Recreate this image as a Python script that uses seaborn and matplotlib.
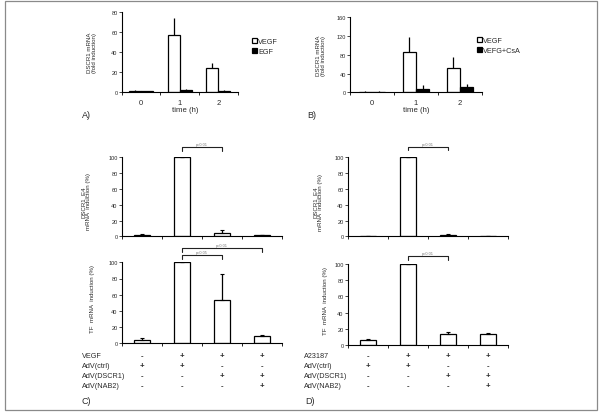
import numpy as np
import pandas as pd
import matplotlib
matplotlib.use("Agg")
import matplotlib.pyplot as plt
import seaborn as sns
from matplotlib.patches import Rectangle
from matplotlib.transforms import blended_transform_factory

sns.set_style("ticks")
plt.rcParams["font.family"] = ["Liberation Sans", "DejaVu Sans"]

# ---------------- data ----------------
time_labels = ["0", "1", "2"]
a_vegf = [1.0, 57.0, 24.0]
a_vegf_err = [0.3, 17.0, 5.0]
a_egf = [1.0, 2.0, 1.0]
a_egf_err = [0.2, 0.7, 0.3]

b_vegf = [1.5, 87.0, 51.0]
b_vegf_err = [0.3, 32.0, 24.0]
b_csa = [1.5, 8.0, 11.0]
b_csa_err = [0.3, 8.0, 7.0]

conditions = ["c1", "c2", "c3", "c4"]
c_dscr1 = [2.0, 100.0, 4.0, 1.5]
c_dscr1_err = [0.8, 0.0, 4.5, 0.5]
c_tf = [3.5, 100.0, 53.0, 8.5]
c_tf_err = [2.5, 0.0, 32.0, 1.5]
d_dscr1 = [0.5, 100.0, 2.0, 0.3]
d_dscr1_err = [0.2, 0.0, 0.6, 0.1]
d_tf = [6.0, 100.0, 13.5, 13.0]
d_tf_err = [2.0, 0.0, 2.0, 2.0]

c_rows = ["VEGF", "AdV(ctrl)", "AdV(DSCR1)", "AdV(NAB2)"]
d_rows = ["A23187", "AdV(ctrl)", "AdV(DSCR1)", "AdV(NAB2)"]
signs = [["-", "+", "+", "+"],
         ["+", "+", "-", "-"],
         ["-", "-", "+", "+"],
         ["-", "-", "-", "+"]]

c_top_cmp = [(1, 2, "p<0.01")]
c_bot_cmp = [(1, 2, "p<0.05"), (1, 3, "p<0.01")]
d_top_cmp = [(1, 2, "p<0.01")]
d_bot_cmp = [(1, 2, "p<0.01")]

# ---------------- figure ----------------
W, H = 600, 414
fig = plt.figure(figsize=(W / 100, H / 100), dpi=100)
fig.patch.set_facecolor("white")
TXT = "#2a2a2a"
YL = 4.4  # y-label font size


def add_ax(x0, yt, x1, yb):
    return fig.add_axes([x0 / W, 1 - yb / H, (x1 - x0) / W, (yb - yt) / H])


def style_ax(ax, ymax, yticks, ncat, xlabels=None):
    ax.set_facecolor("white")
    sns.despine(ax=ax)
    for s in ("left", "bottom"):
        ax.spines[s].set_linewidth(0.8)
        ax.spines[s].set_color("black")
    ax.set_ylim(0, ymax)
    ax.set_yticks(yticks)
    ax.set_xlim(-0.5, ncat - 0.5)
    ax.tick_params(axis="y", length=2, width=0.6, pad=1, labelsize=4.1,
                   colors=TXT, direction="out")
    ax.set_xticks(range(ncat))
    if xlabels is None:
        ax.set_xticklabels([""] * ncat)
    else:
        ax.set_xticklabels(xlabels)
    ax.tick_params(axis="x", which="major", length=0, pad=5, labelsize=5.5,
                   colors=TXT)
    ax.set_xticks(np.arange(-0.5, ncat, 1.0), minor=True)
    ax.tick_params(axis="x", which="minor", length=2, width=0.6,
                   direction="out", color="black")
    ax.set_xlabel("")
    ax.set_ylabel("")


def add_err(ax, container, errs, cap):
    xs = [p.get_x() + p.get_width() / 2 for p in container.patches]
    ys = [p.get_height() for p in container.patches]
    ax.errorbar(xs, ys, yerr=[np.zeros(len(errs)), errs], fmt="none",
                ecolor="black", elinewidth=0.9, capsize=cap, capthick=0.8)


def grouped(ax, s1, v1, e1, s2, v2, e2, width):
    df = pd.DataFrame({
        "time": time_labels * 2,
        "val": list(v1) + list(v2),
        "series": [s1] * 3 + [s2] * 3,
    })
    sns.barplot(data=df, x="time", y="val", hue="series", order=time_labels,
                hue_order=[s1, s2], palette={s1: "white", s2: "black"},
                edgecolor="black", linewidth=0.9, width=width, saturation=1,
                errorbar=None, ax=ax, legend=False)
    add_err(ax, ax.containers[0], e1, 0)
    add_err(ax, ax.containers[1], e2, 0)
    return [ax.containers[0].patches[1], ax.containers[1].patches[1]]


def single(ax, vals, errs):
    df = pd.DataFrame({"cond": conditions, "val": vals})
    sns.barplot(data=df, x="cond", y="val", order=conditions, color="white",
                edgecolor="black", linewidth=0.9, width=0.41, saturation=1,
                errorbar=None, ax=ax)
    add_err(ax, ax.containers[0], errs, 1.3)


def brackets(ax, cmps, levels, drops):
    for (a, b, lab), lev, dr in zip(cmps, levels, drops):
        ax.plot([a, a, b, b], [lev - dr, lev, lev, lev - dr], color="#222",
                lw=0.8, clip_on=False)
        ax.text((a + b) / 2, lev + 1.5, lab, ha="center", va="bottom",
                fontsize=2.8, color="#777", clip_on=False)


def legend(ax, handles, labels, x, y):
    ax.legend(handles, labels, loc="upper left",
              bbox_to_anchor=(x / W, 1 - y / H), bbox_transform=fig.transFigure,
              frameon=False, fontsize=5.2, handlelength=0.75, handleheight=0.75,
              handletextpad=0.2, labelspacing=0.45, borderpad=0,
              borderaxespad=0, labelcolor=TXT)


# ---- Panel A ----
axA = add_ax(121.7, 12.7, 237.7, 92.7)
hA = grouped(axA, "VEGF", a_vegf, a_vegf_err, "EGF", a_egf, a_egf_err, 0.62)
style_ax(axA, 80, [0, 20, 40, 60, 80], 3, time_labels)
axA.set_ylabel("DSCR1 mRNA\n(fold induction)", fontsize=YL, color=TXT,
               linespacing=1.05)
axA.yaxis.set_label_coords(-0.21, 0.5)
axA.set_xlabel("time (h)", fontsize=5.6, color=TXT)
axA.xaxis.set_label_coords(0.55, -0.225)
axA.xaxis.label.set_va("center")
legend(axA, hA, ["VEGF", "EGF"], 251.5, 38.5)

# ---- Panel B ----
axB = add_ax(350, 18.3, 482, 93.3)
hB = grouped(axB, "VEGF", b_vegf, b_vegf_err, "VEFG+CsA", b_csa, b_csa_err,
             0.6)
style_ax(axB, 160, [0, 40, 80, 120, 160], 3, time_labels)
axB.set_ylabel("DSCR1 mRNA\n(fold induction)", fontsize=YL, color=TXT,
               linespacing=1.05)
axB.yaxis.set_label_coords(-0.18, 0.5)
axB.set_xlabel("time (h)", fontsize=5.6, color=TXT)
axB.xaxis.set_label_coords(0.5, -0.225)
axB.xaxis.label.set_va("center")
legend(axB, hB, ["VEGF", "VEFG+CsA"], 476.5, 37.5)

# ---- Panel C ----
axC1 = add_ax(121.7, 158.3, 281.7, 237.3)
single(axC1, c_dscr1, c_dscr1_err)
style_ax(axC1, 100, [0, 20, 40, 60, 80, 100], 4)
axC1.set_ylabel("DSCR1_E4\nmRNA  induction (%)", fontsize=YL, color=TXT,
                linespacing=1.05)
axC1.yaxis.set_label_coords(-0.19, 0.45)
brackets(axC1, c_top_cmp, [113.4], [5.8])

axC2 = add_ax(121.7, 263.3, 281.7, 344.3)
single(axC2, c_tf, c_tf_err)
style_ax(axC2, 100, [0, 20, 40, 60, 80, 100], 4)
axC2.set_ylabel("TF  mRNA  induction (%)", fontsize=YL, color=TXT)
axC2.yaxis.set_label_coords(-0.165, 0.56)
brackets(axC2, c_bot_cmp, [109, 117.3], [4.9, 4.2])

# ---- Panel D ----
axD1 = add_ax(347.7, 158.3, 508, 237.3)
single(axD1, d_dscr1, d_dscr1_err)
style_ax(axD1, 100, [0, 20, 40, 60, 80, 100], 4)
axD1.set_ylabel("DSCR1_E4\nmRNA  induction (%)", fontsize=YL, color=TXT,
                linespacing=1.05)
axD1.yaxis.set_label_coords(-0.155, 0.44)
brackets(axD1, d_top_cmp, [113.4], [4.2])

axD2 = add_ax(347.7, 265, 508, 346)
single(axD2, d_tf, d_tf_err)
style_ax(axD2, 100, [0, 20, 40, 60, 80, 100], 4)
axD2.set_ylabel("TF  mRNA  induction (%)", fontsize=YL, color=TXT)
axD2.yaxis.set_label_coords(-0.125, 0.555)
brackets(axD2, d_bot_cmp, [110.2], [4.9])

# ---- condition tables ----
row_y = [356.5, 366.7, 376.7, 386.7]
for ax, rows, xl in ((axC2, c_rows, 81.5), (axD2, d_rows, 303.5)):
    tr = blended_transform_factory(ax.transData, fig.transFigure)
    for r, (name, yy) in enumerate(zip(rows, row_y)):
        fig.text(xl / W, 1 - yy / H, name, fontsize=5.2, color=TXT,
                 ha="left", va="center")
        for i, s in enumerate(signs[r]):
            ax.text(i, 1 - yy / H, s, transform=tr, fontsize=5.6, color=TXT,
                    ha="center", va="center", fontweight="bold", clip_on=False)

# ---- panel letters ----
for lab, x, y in (("A)", 82, 115), ("B)", 307, 115), ("C)", 82, 402),
                  ("D)", 305, 402)):
    fig.text(x / W, 1 - y / H, lab, fontsize=6.5, color=TXT, ha="left",
             va="center")

# ---- outer frame ----
fig.add_artist(Rectangle((4.5 / W, 1 - 411 / H), 592.5 / W, 409 / H,
                         transform=fig.transFigure, fill=False,
                         edgecolor="#8a8a8a", lw=0.9))

fig.savefig("out.png", dpi=100, facecolor="white")
